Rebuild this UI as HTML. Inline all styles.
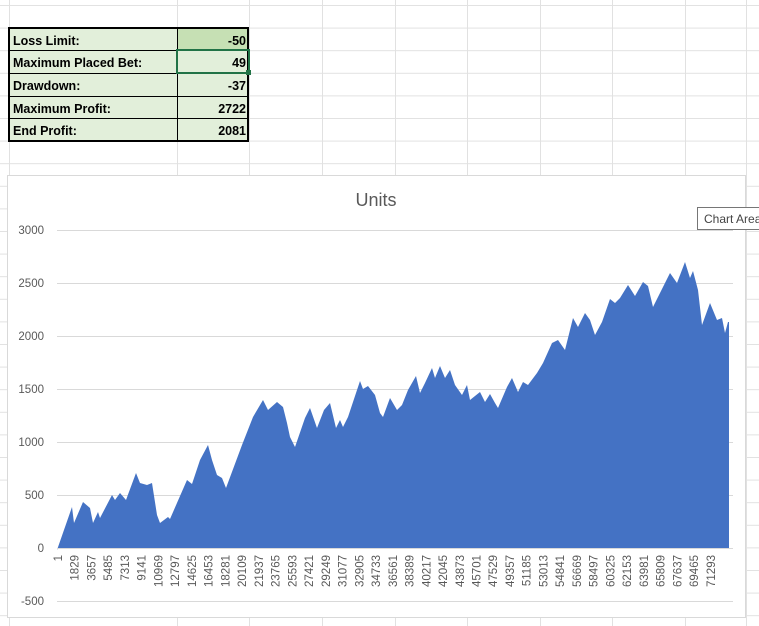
<!DOCTYPE html>
<html><head><meta charset="utf-8"><style>
html,body{margin:0;padding:0;background:#fff;}
svg{display:block;font-family:"Liberation Sans",sans-serif;}
</style></head><body>
<svg width="759" height="626" viewBox="0 0 759 626" xmlns="http://www.w3.org/2000/svg">
<defs>
<pattern id="rows" x="0" y="5" width="759" height="22.6" patternUnits="userSpaceOnUse">
<line x1="0" y1="0.5" x2="759" y2="0.5" stroke="#e1e1e1" stroke-width="1"/>
</pattern>
</defs>
<rect width="759" height="626" fill="#fff"/>
<rect width="759" height="626" fill="url(#rows)"/>
<g stroke="#e1e1e1" stroke-width="1">
<line x1="9.5" y1="0" x2="9.5" y2="626"/>
<line x1="177.5" y1="0" x2="177.5" y2="626"/>
<line x1="249.5" y1="0" x2="249.5" y2="626"/>
<line x1="322.5" y1="0" x2="322.5" y2="626"/>
<line x1="395.5" y1="0" x2="395.5" y2="626"/>
<line x1="467.5" y1="0" x2="467.5" y2="626"/>
<line x1="540.5" y1="0" x2="540.5" y2="626"/>
<line x1="612.5" y1="0" x2="612.5" y2="626"/>
<line x1="685.5" y1="0" x2="685.5" y2="626"/>
<line x1="746.5" y1="0" x2="746.5" y2="626"/>
</g>
<rect x="8" y="27" width="241" height="114" fill="#e2efda"/>
<rect x="177" y="27" width="72" height="23" fill="#c6e0b4"/>
<g stroke="#000" stroke-width="1">
<line x1="8" y1="50.5" x2="249" y2="50.5"/>
<line x1="8" y1="73.5" x2="249" y2="73.5"/>
<line x1="8" y1="96.5" x2="249" y2="96.5"/>
<line x1="8" y1="118.5" x2="249" y2="118.5"/>
<line x1="177.5" y1="27" x2="177.5" y2="141"/>
</g>
<rect x="9" y="28" width="239" height="113" fill="none" stroke="#000" stroke-width="2"/>
<rect x="177" y="50" width="72" height="23" fill="none" stroke="#217346" stroke-width="2"/>
<rect x="246" y="70" width="5" height="5" fill="#217346"/>
<g font-size="12.5" font-weight="bold" fill="#000">
<text x="13" y="45">Loss Limit:</text>
<text x="13" y="67">Maximum Placed Bet:</text>
<text x="13" y="90">Drawdown:</text>
<text x="13" y="113">Maximum Profit:</text>
<text x="13" y="135">End Profit:</text>
<g text-anchor="end">
<text x="246" y="45">-50</text>
<text x="246" y="67">49</text>
<text x="246" y="90">-37</text>
<text x="246" y="113">2722</text>
<text x="246" y="135">2081</text>
</g>
</g>
<rect x="7.5" y="175.5" width="738" height="442" fill="#fff" stroke="#d9d9d9" stroke-width="1"/>
<text x="376" y="206" font-size="18" fill="#595959" text-anchor="middle">Units</text>
<g stroke="#d9d9d9" stroke-width="1">
<line x1="57" y1="230.5" x2="733" y2="230.5"/>
<line x1="57" y1="283.5" x2="733" y2="283.5"/>
<line x1="57" y1="336.5" x2="733" y2="336.5"/>
<line x1="57" y1="389.5" x2="733" y2="389.5"/>
<line x1="57" y1="442.5" x2="733" y2="442.5"/>
<line x1="57" y1="495.5" x2="733" y2="495.5"/>
<line x1="57" y1="601.5" x2="733" y2="601.5"/>
</g>
<g font-size="11.5" fill="#595959" text-anchor="end">
<text x="44" y="234">3000</text>
<text x="44" y="287">2500</text>
<text x="44" y="340">2000</text>
<text x="44" y="393">1500</text>
<text x="44" y="446">1000</text>
<text x="44" y="499">500</text>
<text x="44" y="552">0</text>
<text x="44" y="605">-500</text>
</g>
<polygon fill="#4472c4" points="57,550 72,507 74,523 83,502 90,508 93,523 98,512 100,518 112,495 115,500 120,493 126,500 136,473 140,483 147,485 152,483 157,515 160,523 168,517 170,519 187,480 192,484 200,460 208,445 212,460 217,475 222,478 226,488 242,445 253,417 263,400 268,410 277,402 283,407 287,423 290,437 295,447 305,418 310,408 317,428 324,410 330,403 336,428 340,420 343,427 348,417 360,381 363,389 368,386 375,395 380,413 383,417 390,398 397,410 402,405 408,390 416,376 420,393 425,383 432,368 435,378 440,366 445,378 450,370 455,385 462,395 467,385 470,400 480,392 485,402 490,394 495,403 498,408 507,387 512,378 518,392 523,382 528,385 537,373 543,363 552,343 558,340 565,350 573,318 578,327 585,313 590,320 595,335 602,322 610,299 615,303 620,298 628,285 635,296 643,282 648,286 653,307 663,287 670,273 677,283 685,262 690,278 693,271 698,290 702,325 710,303 717,320 722,318 725,333 728,322 729,322 729,548 57,548"/>
<line x1="57" y1="548.5" x2="733" y2="548.5" stroke="#d9d9d9" stroke-width="1"/>
<g font-size="11.5" fill="#595959" text-anchor="end">
<text transform="translate(62.0,555) rotate(-90)">1</text>
<text transform="translate(78.7,555) rotate(-90)">1829</text>
<text transform="translate(95.5,555) rotate(-90)">3657</text>
<text transform="translate(112.2,555) rotate(-90)">5485</text>
<text transform="translate(129.0,555) rotate(-90)">7313</text>
<text transform="translate(145.7,555) rotate(-90)">9141</text>
<text transform="translate(162.4,555) rotate(-90)">10969</text>
<text transform="translate(179.2,555) rotate(-90)">12797</text>
<text transform="translate(195.9,555) rotate(-90)">14625</text>
<text transform="translate(212.7,555) rotate(-90)">16453</text>
<text transform="translate(229.4,555) rotate(-90)">18281</text>
<text transform="translate(246.1,555) rotate(-90)">20109</text>
<text transform="translate(262.9,555) rotate(-90)">21937</text>
<text transform="translate(279.6,555) rotate(-90)">23765</text>
<text transform="translate(296.4,555) rotate(-90)">25593</text>
<text transform="translate(313.1,555) rotate(-90)">27421</text>
<text transform="translate(329.8,555) rotate(-90)">29249</text>
<text transform="translate(346.6,555) rotate(-90)">31077</text>
<text transform="translate(363.3,555) rotate(-90)">32905</text>
<text transform="translate(380.1,555) rotate(-90)">34733</text>
<text transform="translate(396.8,555) rotate(-90)">36561</text>
<text transform="translate(413.5,555) rotate(-90)">38389</text>
<text transform="translate(430.3,555) rotate(-90)">40217</text>
<text transform="translate(447.0,555) rotate(-90)">42045</text>
<text transform="translate(463.8,555) rotate(-90)">43873</text>
<text transform="translate(480.5,555) rotate(-90)">45701</text>
<text transform="translate(497.2,555) rotate(-90)">47529</text>
<text transform="translate(514.0,555) rotate(-90)">49357</text>
<text transform="translate(530.7,555) rotate(-90)">51185</text>
<text transform="translate(547.5,555) rotate(-90)">53013</text>
<text transform="translate(564.2,555) rotate(-90)">54841</text>
<text transform="translate(580.9,555) rotate(-90)">56669</text>
<text transform="translate(597.7,555) rotate(-90)">58497</text>
<text transform="translate(614.4,555) rotate(-90)">60325</text>
<text transform="translate(631.2,555) rotate(-90)">62153</text>
<text transform="translate(647.9,555) rotate(-90)">63981</text>
<text transform="translate(664.6,555) rotate(-90)">65809</text>
<text transform="translate(681.4,555) rotate(-90)">67637</text>
<text transform="translate(698.1,555) rotate(-90)">69465</text>
<text transform="translate(714.9,555) rotate(-90)">71293</text>
</g>
<rect x="697.5" y="207.5" width="70" height="22" fill="#fff" stroke="#767676" stroke-width="1"/>
<text x="704" y="223" font-size="12" fill="#444">Chart Area</text>
</svg>
</body></html>
